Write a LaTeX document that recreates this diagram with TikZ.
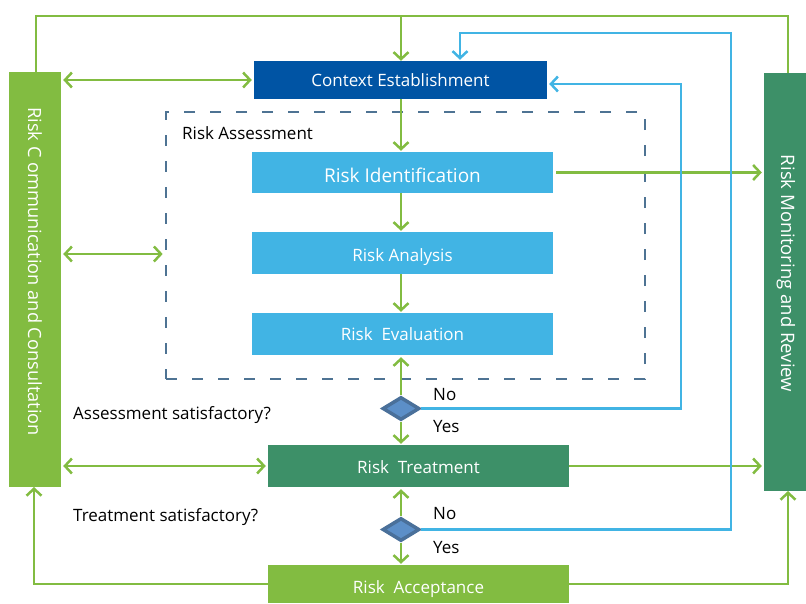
\documentclass[tikz,border=0pt]{standalone}
\usepackage{fontspec}
\setmainfont{Open Sans}
\usetikzlibrary{arrows.meta,shapes.geometric,calc}
\definecolor{cgreen}{HTML}{82BC41}
\definecolor{cdgreen}{HTML}{3D9068}
\definecolor{cdblue}{HTML}{0054A4}
\definecolor{clblue}{HTML}{41B4E4}
\definecolor{cdash}{HTML}{4E7393}
\definecolor{cdiaB}{HTML}{4A709A}
\definecolor{cdiaF}{HTML}{5C8FC8}
\begin{document}
\begin{tikzpicture}[x=1pt,y=-1pt,
  every node/.style={font=\fontsize{17}{20}\selectfont},
  box/.style={rectangle, inner sep=0pt, text=white, minimum width=301pt},
  side/.style={rectangle, inner sep=0pt, text=white},
  boxtext/.style={inner sep=0pt, text=white},
  gline/.style={draw=cgreen, line width=2.5pt},
  garrow/.style={gline, -{Straight Barb[length=7pt,width=15pt,line width=2.5pt]}},
  gboth/.style={gline, {Straight Barb[length=7pt,width=15pt,line width=2.5pt]}-{Straight Barb[length=7pt,width=15pt,line width=2.5pt]}},
  barrow/.style={draw=clblue, line width=2.5pt, -{Straight Barb[length=7pt,width=15pt,line width=2.5pt]}},
  dia/.style={diamond, draw=cdiaB, fill=cdiaF, line width=3.5pt, minimum width=37pt, minimum height=23pt, inner sep=0pt},
  lbl/.style={inner sep=0pt, text=black, anchor=west}
]
\useasboundingbox (0,0) rectangle (806,603);

% side boxes
\node[side, fill=cgreen, minimum width=52pt, minimum height=415pt] (left) at (35,279.5) {};
\node[boxtext, rotate=-90, font=\fontsize{18.2}{20}\selectfont] (lefttext) at (35,271.5) {Risk C ommunication and Consultation};
\node[side, fill=cdgreen, minimum width=42pt, minimum height=418pt] (right) at (785,282) {};
\node[boxtext, rotate=-90, font=\fontsize{18.5}{20}\selectfont] (righttext) at (786,273.5) {Risk Monitoring and Review};

% dashed assessment frame
\node[draw=cdash, line width=2.7pt, dash pattern=on 11pt off 15pt, minimum width=479pt, minimum height=267pt, inner sep=0pt] (assess) at (405.5,245.5) {};
\node[lbl] (asslbl) at (182,133) {Risk Assessment};

% main boxes
\node[box, fill=cdblue, minimum width=293pt, minimum height=38pt] (ctx) at (400.5,80) {};
\node[boxtext] (ctxt) at (400.5,80) {Context Establishment};
\node[box, fill=clblue, minimum height=41pt] (ri) at (402.5,172.5) {};
\node[boxtext, font=\fontsize{19}{22}\selectfont] (rit) at (402.5,175) {Risk Identification};
\node[box, fill=clblue, minimum height=42pt] (ra) at (402.5,253) {};
\node[boxtext] (rat) at (402.5,257.5) {Risk Analysis};
\node[box, fill=clblue, minimum height=42pt] (re) at (402.5,334) {};
\node[boxtext] (ret) at (402.5,334.5) {Risk\ \ Evaluation};
\node[box, fill=cdgreen, minimum height=42pt] (rt) at (418.5,466) {};
\node[boxtext] (rtt) at (418.5,467.5) {Risk\ \ Treatment};
\node[box, fill=cgreen, minimum height=38pt] (rac) at (418.5,584) {};
\node[boxtext] (ract) at (418.5,589) {Risk\ \ Acceptance};

% diamonds
\node[dia] (d1) at (401,408.5) {};
\node[dia] (d2) at (401,529.5) {};

% labels
\node[lbl] (l1) at (73,415) {Assessment satisfactory?};
\node[lbl] (l2) at (73,517) {Treatment satisfactory?};
\node[lbl] (n1) at (433,395) {No};
\node[lbl] (y1) at (433,427) {Yes};
\node[lbl] (n2) at (433,514) {No};
\node[lbl] (y2) at (433,548) {Yes};

% coordinates for routing
\coordinate (tl) at (36,16);
\coordinate (tm) at (401,16);
\coordinate (tr) at (788,16);
\coordinate (b1) at (681,84);
\coordinate (b2a) at (731,33);
\coordinate (b2b) at (460,33);
\coordinate (rb) at (788,491);
\coordinate (lb) at (34,487);

% top loop
\draw[gline] (left.north -| tl) -- (tl) -- (tr) -- (tr |- right.north);
\draw[garrow] (tm) -- (tm |- ctx.north);

% vertical chain
\draw[garrow] (ctx.south -| tm) -- ($(ri.north -| tm)+(0,-1)$);
\draw[garrow] (ri.south -| tm) -- ($(ra.north -| tm)+(0,-1)$);
\draw[garrow] (ra.south -| tm) -- ($(re.north -| tm)+(0,-1)$);
\draw[garrow] (d1.north) -- ($(re.south -| d1)+(0,2)$);
\draw[garrow] (d1.south) -- ($(rt.north -| d1)+(0,-1)$);
\draw[garrow] (d2.north) -- ($(rt.south -| d2)+(0,2)$);
\draw[garrow] (d2.south) -- ($(rac.north -| d2)+(0,-1)$);

% left box connections
\draw[gboth] ($(left.east |- ctx)+(2,0)$) -- ($(ctx.west)+(-2,0)$);
\draw[gboth] ($(left.east)+(2,-25.5)$) -- ($(assess.west)+(-2,8.5)$);
\draw[gboth] ($(left.east |- rt)+(2,0)$) -- ($(rt.west)+(-2,0)$);

% right box connections
\draw[garrow] ($(ri.east)+(3,0)$) -- ($(right.west |- ri)+(-2,0)$);
\draw[garrow] (rt.east) -- ($(right.west |- rt)+(-2,0)$);

% acceptance returns
\draw[garrow] (rac.west) -| (lb);
\draw[garrow] (rac.east) -| (rb);

% No loops
\draw[barrow] (d1.east) -- (d1.east -| b1) -- (b1) -- ($(ctx.east |- b1)+(2,0)$);
\draw[barrow] (d2.east) -- (d2.east -| b2a) -- (b2a) -- (b2b) -- ($(b2b |- ctx.north)+(0,-1)$);
\end{tikzpicture}
\end{document}
